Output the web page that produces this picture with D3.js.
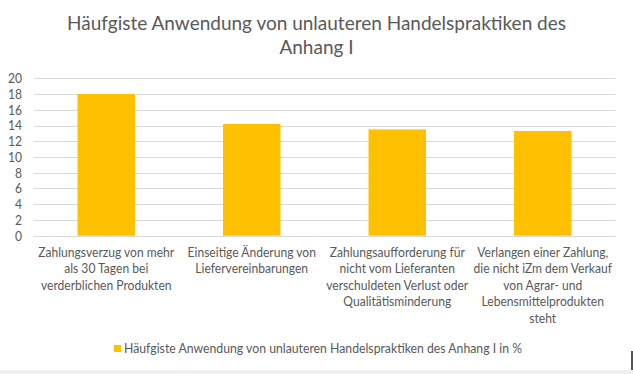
<!DOCTYPE html>
<html>
<head>
<meta charset="utf-8">
<script src="https://cdn.jsdelivr.net/npm/d3@7"></script>
<style>
  html, body { margin: 0; padding: 0; background: #fff; }
  svg { display: block; }
</style>
</head>
<body>
<svg id="chart" width="633" height="374"></svg>
<script>
const titleLines = ["Häufgiste Anwendung von unlauteren Handelspraktiken des", "Anhang I"];
const categories = [
  "Zahlungsverzug von mehr\nals 30 Tagen bei\nverderblichen Produkten",
  "Einseitige Änderung von\nLiefervereinbarungen",
  "Zahlungsaufforderung für\nnicht vom Lieferanten\nverschuldeten Verlust oder\nQualitätisminderung",
  "Verlangen einer Zahlung,\ndie nicht iZm dem Verkauf\nvon Agrar- und\nLebensmittelprodukten\nsteht"
];
const values = [18, 14.2, 13.5, 13.3];
const yTicks = [0, 2, 4, 6, 8, 10, 12, 14, 16, 18, 20];
const seriesName = "Häufgiste Anwendung von unlauteren Handelspraktiken des Anhang I in %";

const W = 633, H = 374;
const plot = { left: 33.5, right: 615.5, top: 78.3, bottom: 235.7 };
const FONT = "Lato, 'Open Sans', sans-serif";
const textColor = "#595959";
const barColor = "#FFC000";
const gridColor = "#d9d9d9";

const svg = d3.select("#chart");
svg.append("rect").attr("width", W).attr("height", H).attr("fill", "#fff");

function applyRatio(sel, ratio) {
  sel.each(function() {
    const w = this.getComputedTextLength();
    d3.select(this).attr("textLength", w * ratio).attr("lengthAdjust", "spacingAndGlyphs");
  });
}
function ratioFor(node, target) { return target / node.getComputedTextLength(); }

// Title
const titleSel = svg.append("g").selectAll("text").data(titleLines).join("text")
  .attr("x", W / 2)
  .attr("y", (d, i) => 29.5 + i * 24.5)
  .attr("text-anchor", "middle")
  .attr("font-family", FONT)
  .attr("font-size", 19)
  .attr("fill", textColor)
  .text(d => d);
const tRatio = ratioFor(titleSel.nodes()[0], 499);
applyRatio(titleSel, tRatio);

const x = d3.scaleBand().domain(categories).range([plot.left, plot.right]).paddingInner(0.605).paddingOuter(0.3025);
const y = d3.scaleLinear().domain([0, 20]).range([plot.bottom, plot.top]);

// Gridlines
svg.append("g").selectAll("line").data(yTicks).join("line")
  .attr("x1", plot.left).attr("x2", plot.right)
  .attr("y1", d => Math.round(y(d)) + 0.5).attr("y2", d => Math.round(y(d)) + 0.5)
  .attr("stroke", gridColor).attr("stroke-width", 1);

// Bars
svg.append("g").selectAll("rect").data(values).join("rect")
  .attr("x", (d, i) => x(categories[i]))
  .attr("width", x.bandwidth())
  .attr("y", d => y(d))
  .attr("height", d => y(0) - y(d))
  .attr("fill", barColor);

// X labels
const labelSize = 12.5;
const xl = svg.append("g");
categories.forEach(c => {
  const lines = c.split("\n");
  const cx = x(c) + x.bandwidth() / 2;
  xl.append("g").selectAll("text").data(lines).join("text")
    .attr("x", cx)
    .attr("y", (d, i) => 256.5 + i * 16.5)
    .attr("text-anchor", "middle")
    .attr("font-family", FONT)
    .attr("font-size", labelSize)
    .attr("fill", textColor)
    .text(d => d);
});
const lRatio = ratioFor(xl.select("text").node(), 136);
applyRatio(xl.selectAll("text"), lRatio);

// Y axis labels
const yAxis = d3.axisLeft(y).tickValues(yTicks).tickSize(0).tickPadding(0);
const yg = svg.append("g").attr("transform", `translate(22,0)`).call(yAxis);
yg.select(".domain").remove();
yg.selectAll("text").attr("font-family", FONT).attr("font-size", labelSize).attr("fill", textColor).attr("dy", "0.35em");
applyRatio(yg.selectAll("text"), lRatio);

// Legend
const lg = svg.append("g");
lg.append("rect").attr("x", 114).attr("y", 345).attr("width", 7).attr("height", 7).attr("fill", barColor);
const legText = lg.append("text").attr("x", 124).attr("y", 353)
  .attr("font-family", FONT).attr("font-size", labelSize).attr("fill", textColor)
  .text(seriesName);
applyRatio(legText, ratioFor(legText.node(), 398));

// Frame artifacts
svg.append("rect").attr("x", 0).attr("y", 370).attr("width", W).attr("height", 4).attr("fill", "#efefef");
svg.append("rect").attr("x", 631).attr("y", 351).attr("width", 2).attr("height", 19).attr("fill", "#555");
</script>
</body>
</html>
